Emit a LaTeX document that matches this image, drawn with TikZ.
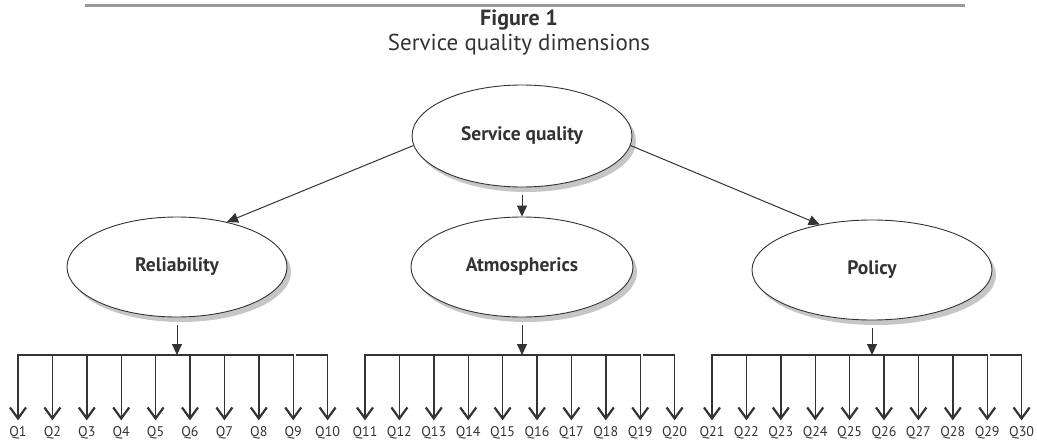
\documentclass[tikz,border=0pt]{standalone}
\usepackage{fontspec}
\setmainfont{PT Sans}
\usetikzlibrary{shapes.geometric,arrows.meta,shadows}
\definecolor{ink}{HTML}{333333}
\definecolor{rulegray}{HTML}{9A9A9A}
\definecolor{shade}{HTML}{C6C6C6}
\begin{document}
\begin{tikzpicture}[x=1pt,y=-1pt,
  dim/.style={ellipse, draw=ink, line width=0.9pt, fill=white, inner sep=0pt,
    drop shadow={shadow xshift=4pt, shadow yshift=-5pt, fill=shade, opacity=1},
    font=\fontsize{19.5}{22}\selectfont\bfseries, text=ink},
  link/.style={draw=ink, line width=1pt, -{Triangle[length=11pt,width=10pt]}},
  item/.style={draw=ink, line width=1.4pt, shorten >=6pt,
    -{Straight Barb[length=11pt,width=16pt,line width=2.2pt]}},
  barline/.style={draw=ink, line width=1.4pt, line cap=rect},
  qlabel/.style={font=\fontsize{14}{16}\selectfont, text=ink, inner sep=0pt, anchor=base}
]
\useasboundingbox (0,0) rectangle (1037,442);
% header
\coordinate (r1) at (85,5);
\coordinate (r2) at (965,5);
\draw[rulegray, line width=3pt] (r1) -- (r2);
\node[font=\fontsize{22}{24}\selectfont\bfseries, text=ink, anchor=base] (fig) at (519,25) {Figure 1};
\node[font=\fontsize{23}{26}\selectfont, text=ink, anchor=base] (cap) at (519,50) {Service quality dimensions};
% ellipses
\node[dim, minimum width=220pt, minimum height=102pt] (sq) at (522,136) {Service quality};
\node[dim, minimum width=220pt, minimum height=100pt] (rel) at (177,267) {Reliability};
\node[dim, minimum width=222pt, minimum height=100pt] (atm) at (522,267) {Atmospherics};
\node[dim, minimum width=240pt, minimum height=100pt] (pol) at (872,270) {Policy};
% top arrows
\draw[link] (sq.185) -- (rel.42);
\draw[link, shorten <=8pt] (sq.south) -- (atm.north);
\draw[link] (sq.355) -- (pol.139);
% items
\foreach \g/\e in {0/rel,1/atm,2/pol}{
  \coordinate (bar\g) at (\e.south |- 0,355);
  \draw[link, shorten <=8pt] (\e.south) -- (bar\g);
  \foreach \i in {1,...,10}{
    \pgfmathsetmacro\xx{18+347*\g+34.4*(\i-1)}
    \pgfmathtruncatemacro\n{10*\g+\i}
    \coordinate (t\n) at (\xx,355);
    \node[qlabel] (q\n) at (\xx,436.5) {Q\n};
    \draw[item] (t\n) -- (q\n.north);
  }
}
\foreach \a in {1,11,21}{
  \pgfmathtruncatemacro\b{\a+8}
  \pgfmathtruncatemacro\c{\a+9}
  \draw[barline] (t\a) -- (t\b);
  \draw[barline] ([xshift=3pt]t\b) -- (t\c);
}
\end{tikzpicture}
\end{document}
